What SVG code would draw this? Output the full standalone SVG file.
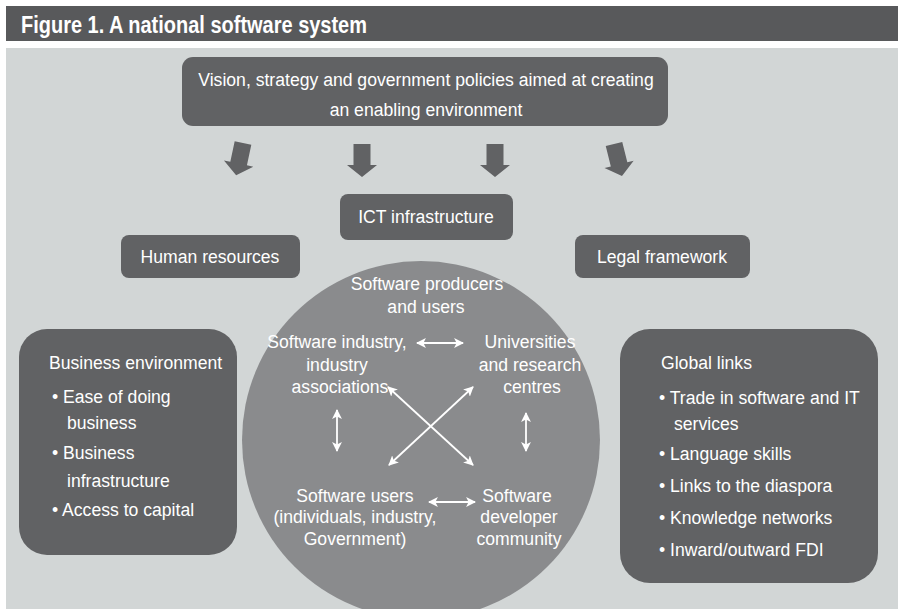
<svg xmlns="http://www.w3.org/2000/svg" width="898" height="609" viewBox="0 0 898 609">
<defs>
<style>
.box{fill:#616264}
.t{font-family:"Liberation Sans",Arial,sans-serif;font-size:17.6px;fill:#ffffff}
.c{text-anchor:middle}
.lnk{stroke:#ffffff;stroke-width:1.8;fill:none;marker-start:url(#ah);marker-end:url(#ah)}
.bigarrow{fill:#616264}
</style>
<marker id="ah" viewBox="0 0 10 10" refX="9" refY="5" markerWidth="5.5" markerHeight="5.5" orient="auto-start-reverse" markerUnits="strokeWidth">
<path d="M0,0 L10,5 L0,10 L2.5,5 Z" fill="#ffffff"/>
</marker>
<path id="arr" d="M-8.5,0 L8.5,0 L8.5,21 L15,21 L0,33 L-15,21 L-8.5,21 Z"/>
</defs>
<rect x="0" y="0" width="898" height="609" fill="#ffffff"/>
<g id="title">
<rect x="6" y="6" width="892" height="35" fill="#58595b"/>
<text x="21" y="33" font-family="'Liberation Sans',Arial,sans-serif" font-weight="bold" font-size="23" fill="#ffffff" textLength="346" lengthAdjust="spacingAndGlyphs">Figure 1. A national software system</text>
</g>
<rect x="6" y="48" width="892" height="561" fill="#d2d6d6"/>
<g id="policy">
<rect class="box" x="182" y="57" width="486" height="69" rx="11"/>
<text class="t c" x="426" y="86">Vision, strategy and government policies aimed at creating</text>
<text class="t c" x="426" y="116">an enabling environment</text>
</g>
<g id="policy-arrows" class="bigarrow">
<use href="#arr" transform="translate(243,143) rotate(12)"/>
<use href="#arr" transform="translate(362,144)"/>
<use href="#arr" transform="translate(495,144)"/>
<use href="#arr" transform="translate(614,144) rotate(-14)"/>
</g>
<g id="ict">
<rect class="box" x="340" y="194" width="173" height="46" rx="8"/>
<text class="t c" x="426" y="223">ICT infrastructure</text>
</g>
<g id="human">
<rect class="box" x="121" y="235" width="179" height="43" rx="8"/>
<text class="t c" x="210" y="263">Human resources</text>
</g>
<g id="legal">
<rect class="box" x="575" y="235" width="175" height="43" rx="8"/>
<text class="t c" x="662" y="263">Legal framework</text>
</g>
<g id="core">
<circle cx="421" cy="440" r="179" fill="#8a8b8d"/>
<text class="t c" x="427" y="290">Software producers</text>
<text class="t c" x="426" y="313">and users</text>
</g>
<g id="industry">
<text class="t c" x="337" y="348">Software industry,</text>
<text class="t c" x="337" y="371">industry</text>
<text class="t c" x="340" y="393">associations</text>
</g>
<g id="universities">
<text class="t c" x="530" y="348">Universities</text>
<text class="t c" x="530" y="371">and research</text>
<text class="t c" x="532" y="393">centres</text>
</g>
<g id="users">
<text class="t c" x="355" y="502">Software users</text>
<text class="t c" x="355" y="523">(individuals, industry,</text>
<text class="t c" x="355" y="545">Government)</text>
</g>
<g id="developers">
<text class="t c" x="517" y="502">Software</text>
<text class="t c" x="519" y="523">developer</text>
<text class="t c" x="519" y="545">community</text>
</g>
<g id="connectors">
<line class="lnk" x1="417" y1="343" x2="463" y2="343"/>
<line class="lnk" x1="429" y1="502" x2="475" y2="502"/>
<line class="lnk" x1="337" y1="410" x2="337" y2="451"/>
<line class="lnk" x1="526" y1="413" x2="526" y2="451"/>
<line class="lnk" x1="388" y1="387" x2="473" y2="465"/>
<line class="lnk" x1="473" y1="387" x2="389" y2="465"/>
</g>
<g id="business">
<rect class="box" x="19" y="329" width="218" height="226" rx="28"/>
<text class="t" x="49" y="369">Business environment</text>
<text class="t" x="52" y="403">• Ease of doing</text>
<text class="t" x="67" y="429">business</text>
<text class="t" x="52" y="459">• Business</text>
<text class="t" x="67" y="487">infrastructure</text>
<text class="t" x="52" y="516">• Access to capital</text>
</g>
<g id="global">
<rect class="box" x="620" y="329" width="258" height="254" rx="30"/>
<text class="t" x="661" y="369">Global links</text>
<text class="t" x="659" y="404">• Trade in software and IT</text>
<text class="t" x="674" y="430">services</text>
<text class="t" x="659" y="460">• Language skills</text>
<text class="t" x="659" y="492">• Links to the diaspora</text>
<text class="t" x="659" y="524">• Knowledge networks</text>
<text class="t" x="659" y="556">• Inward/outward FDI</text>
</g>
</svg>
